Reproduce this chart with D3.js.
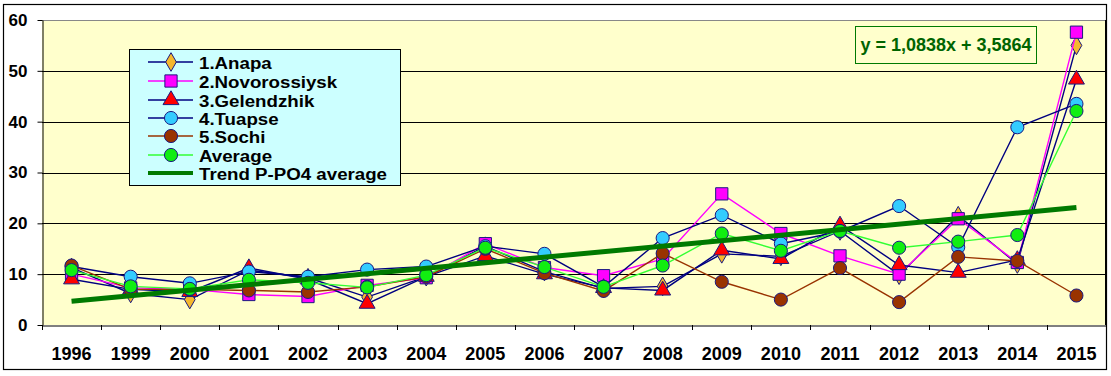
<!DOCTYPE html>
<html>
<head>
<meta charset="utf-8">
<script src="https://cdn.jsdelivr.net/npm/d3@7"></script>
<style>
  body { margin: 0; background: #fff; }
  svg text { font-family: "Liberation Sans", Arial, sans-serif; font-weight: bold; }
</style>
</head>
<body>
<div id="chart"></div>
<script>
// years on the x axis (not evenly spaced, 1997/98 missing)
const years = ["1996", "1999", "2000", "2001", "2002", "2003", "2004", "2005", "2006",
  "2007", "2008", "2009", "2010", "2011", "2012", "2013", "2014", "2015"];

// P-PO4 values per station
const anapa = [11.3, 6.2, 5.0, 10.8, 9.3, 5.5, 9.5, 15.5, 10.5, 7.2, 7.6, 14.0, 13.5, 18.5, 9.8, 21.5, 12.0, 55.0];
const novorossiysk = [10.0, 7.3, 7.0, 6.0, 5.6, 7.8, 9.3, 16.0, 11.3, 9.7, 13.0, 25.8, 18.0, 13.6, 10.0, 20.9, 12.3, 57.6];
const gelendzhik = [9.0, 7.0, 6.5, 11.2, 9.0, 4.2, 9.5, 13.6, 10.0, 7.3, 6.8, 14.7, 13.0, 19.6, 11.8, 10.3, 12.8, 48.3];
const tuapse = [11.5, 9.5, 8.2, 10.5, 9.5, 10.9, 11.5, 15.5, 14.0, 7.5, 17.1, 21.6, 16.0, 18.4, 23.4, 15.3, 38.9, 43.5];
const sochi = [11.7, 7.0, 7.0, 6.8, 6.5, 7.5, 9.5, 15.0, 10.2, 6.7, 14.1, 8.5, 5.0, 11.2, 4.5, 13.4, 12.6, 5.8];
const average = [10.8, 7.6, 7.1, 8.9, 8.3, 7.4, 9.8, 15.2, 11.4, 7.5, 11.7, 18.0, 14.6, 18.5, 15.2, 16.4, 17.7, 42.1];

const yTicks = [0, 10, 20, 30, 40, 50, 60];

// linear trend of the average, as printed on the chart
const trendSlope = 1.0838;
const trendIntercept = 3.5864;
const trendLabel = "y = 1,0838x + 3,5864";

const series = [
  { name: "1.Anapa", values: anapa, line: "#000080", fill: "#F5B82E", shape: d3.symbolDiamond, size: 100 },
  { name: "2.Novorossiysk", values: novorossiysk, line: "#FF00FF", fill: "#FF00FF", shape: d3.symbolSquare, size: 150 },
  { name: "3.Gelendzhik", values: gelendzhik, line: "#000080", fill: "#FF0000", shape: d3.symbolTriangle, size: 110 },
  { name: "4.Tuapse", values: tuapse, line: "#000080", fill: "#33CCFF", shape: d3.symbolCircle, size: 135 },
  { name: "5.Sochi", values: sochi, line: "#993300", fill: "#993300", shape: d3.symbolCircle, size: 135 },
  { name: "Average", values: average, line: "#33FF33", fill: "#11EE11", shape: d3.symbolCircle, size: 135 }
];

const width = 1111, height = 376;
const margin = { left: 42, right: 5, top: 20, bottom: 51 };

const svg = d3.select("#chart").append("svg")
  .attr("width", width)
  .attr("height", height);

svg.append("rect")
  .attr("width", width).attr("height", height)
  .attr("fill", "#fff");

// outer border of the chart object
svg.append("rect")
  .attr("x", 3.5).attr("y", 4.5)
  .attr("width", 1103).attr("height", 365)
  .attr("fill", "none")
  .attr("stroke", "#000")
  .attr("stroke-width", 1.2);

const x = d3.scaleBand()
  .domain(years)
  .range([margin.left, width - margin.right])
  .padding(0);

const y = d3.scaleLinear()
  .domain([0, 60])
  .range([height - margin.bottom, margin.top]);

// plot area
svg.append("rect")
  .attr("x", margin.left).attr("y", margin.top)
  .attr("width", x.range()[1] - margin.left)
  .attr("height", y(0) - y(60))
  .attr("fill", "#FFFFCC");

// gridlines
svg.append("g")
  .selectAll("line")
  .data(yTicks.filter(d => d > 0))
  .join("line")
  .attr("x1", margin.left).attr("x2", x.range()[1])
  .attr("y1", d => Math.round(y(d)) + 0.5).attr("y2", d => Math.round(y(d)) + 0.5)
  .attr("stroke", d => d === 60 ? "#888" : "#000")
  .attr("stroke-width", 1);

// right edge of plot
svg.append("line")
  .attr("x1", x.range()[1] - 0.5).attr("x2", x.range()[1] - 0.5)
  .attr("y1", y(60)).attr("y2", y(0))
  .attr("stroke", "#000");

// y axis
const yAxis = svg.append("g")
  .attr("transform", `translate(${margin.left + 0.5},0)`)
  .call(d3.axisLeft(y).tickValues(yTicks).tickSize(5).tickPadding(10).tickSizeOuter(0));
yAxis.selectAll("text").attr("font-size", 17).attr("fill", "#000")
  .attr("font-family", "Liberation Sans, Arial, sans-serif").attr("font-weight", "bold");
yAxis.select(".domain").attr("stroke", "#000");

// x axis: labels centred in bands, ticks on band edges
const xAxis = svg.append("g")
  .attr("transform", `translate(0,${Math.round(y(0)) + 0.5})`)
  .call(d3.axisBottom(x).tickSize(0).tickPadding(22).tickSizeOuter(0));
xAxis.selectAll("text").attr("font-size", 18).attr("fill", "#000")
  .attr("font-family", "Liberation Sans, Arial, sans-serif").attr("font-weight", "bold");
xAxis.select(".domain").attr("stroke", "#000");

svg.append("g")
  .selectAll("line")
  .data(years.slice(1))
  .join("line")
  .attr("x1", d => Math.round(x(d)) + 0.5).attr("x2", d => Math.round(x(d)) + 0.5)
  .attr("y1", y(0)).attr("y2", y(0) + 5)
  .attr("stroke", "#000");
svg.append("line")
  .attr("x1", margin.left + 0.5).attr("x2", margin.left + 0.5)
  .attr("y1", y(0)).attr("y2", y(0) + 5)
  .attr("stroke", "#000");

const cx = d => x(d) + x.bandwidth() / 2;

const line = d3.line()
  .x((d, i) => cx(years[i]))
  .y(d => y(d));

// series lines and markers, one after another so later ones sit on top
series.forEach(s => {
  const g = svg.append("g");
  g.append("path")
    .attr("d", line(s.values))
    .attr("fill", "none")
    .attr("stroke", s.line)
    .attr("stroke-width", 1.4);
  g.selectAll("path.mark")
    .data(s.values)
    .join("path")
    .attr("class", "mark")
    .attr("transform", (d, i) => `translate(${cx(years[i])},${y(d)})`)
    .attr("d", d3.symbol().type(s.shape).size(s.size))
    .attr("fill", s.fill)
    .attr("stroke", "#1a1a80")
    .attr("stroke-width", 1);
});

// trend line of the average
const trendPts = [0, years.length - 1].map(i => ({ year: years[i], v: trendSlope * (i + 1) + trendIntercept }));
svg.append("line")
  .attr("x1", cx(trendPts[0].year)).attr("y1", y(trendPts[0].v))
  .attr("x2", cx(trendPts[1].year)).attr("y2", y(trendPts[1].v))
  .attr("stroke", "#007A00")
  .attr("stroke-width", 5);

// equation box
svg.append("rect")
  .attr("x", 855.5).attr("y", 26.5)
  .attr("width", 181).attr("height", 37)
  .attr("fill", "#FFFFCC")
  .attr("stroke", "#007A00");
svg.append("text")
  .attr("x", 946).attr("y", 51)
  .attr("text-anchor", "middle")
  .attr("font-size", 18)
  .attr("fill", "#006400")
  .text(trendLabel);

// legend
const legend = svg.append("g");
legend.append("rect")
  .attr("x", 129.5).attr("y", 49.5)
  .attr("width", 271).attr("height", 136)
  .attr("fill", "#CCFFFF")
  .attr("stroke", "#000");

const legendRows = series.map(s => s).concat([{ name: "Trend P-PO4 average", trend: true }]);
const rowY = [62, 81, 100, 118, 136, 155, 173];

legendRows.forEach((s, i) => {
  const ry = rowY[i];
  legend.append("line")
    .attr("x1", 148).attr("x2", 193)
    .attr("y1", ry).attr("y2", ry)
    .attr("stroke", s.trend ? "#007A00" : s.line)
    .attr("stroke-width", s.trend ? 4 : 1.3);
  if (!s.trend) {
    legend.append("path")
      .attr("transform", `translate(171,${ry})`)
      .attr("d", d3.symbol().type(s.shape).size(s.size))
      .attr("fill", s.fill)
      .attr("stroke", "#1a1a80");
  }
  legend.append("text")
    .attr("transform", `translate(199,${ry + 6.5}) scale(1.1,1)`)
    .attr("font-size", 17)
    .attr("fill", "#000")
    .text(s.name);
});
</script>
</body>
</html>
